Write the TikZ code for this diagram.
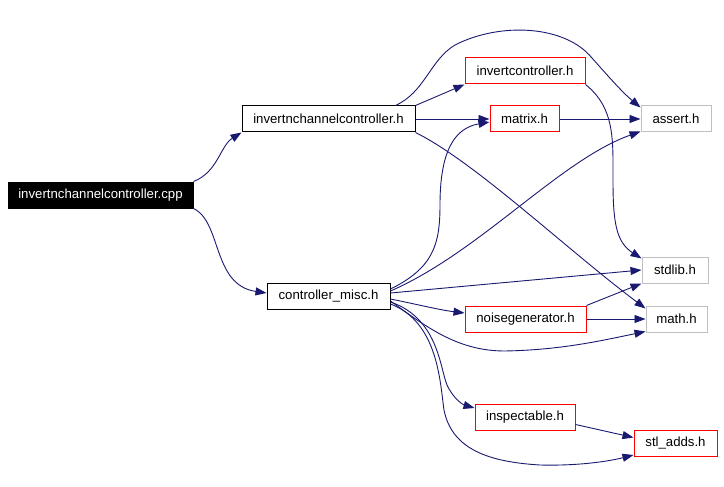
\documentclass[tikz,border=0pt]{standalone}
\usepackage{fontspec}
\setmainfont{Liberation Sans}
\usetikzlibrary{arrows.meta}
\definecolor{edgecol}{HTML}{191970}
\definecolor{graybox}{HTML}{BFBFBF}
\definecolor{redline}{HTML}{FF0000}
\tikzset{
  box/.style={draw, line width=1pt, inner sep=0pt, minimum height=26pt, font=\fontsize{13.2}{15}\selectfont, text=black},
  redbox/.style={box, draw=redline},
  graynode/.style={box, draw=graybox},
  blacknode/.style={box, draw=black},
  rootnode/.style={box, draw=black, fill=black, text=white},
  dep/.style={draw=edgecol, line width=0.9pt, -{Triangle[length=11pt,width=8pt]}, fill=none},
}
\begin{document}
\begin{tikzpicture}[x=1pt,y=-1pt]
\useasboundingbox (0,0) rectangle (724,487);
\node[rootnode, minimum width=185pt] (cpp) at (100.5,195) {invertnchannelcontroller.cpp};
\node[blacknode, minimum width=173pt] (invh) at (328.5,119) {invertnchannelcontroller.h};
\node[blacknode, minimum width=123pt] (misc) at (328.5,296) {controller\_misc.h};
\node[redbox, minimum width=120pt] (invctrl) at (525,71) {invertcontroller.h};
\node[redbox, minimum width=69pt] (matrix) at (524.5,119) {matrix.h};
\node[graynode, minimum width=70pt] (assert) at (676,119) {assert.h};
\node[graynode, minimum width=66pt] (stdlib) at (675,270) {stdlib.h};
\node[redbox, minimum width=121pt] (noise) at (525.5,319) {noisegenerator.h};
\node[graynode, minimum width=61pt] (math) at (676.5,319) {math.h};
\node[redbox, minimum width=100pt] (insp) at (525,417.5) {inspectable.h};
\node[redbox, minimum width=83pt] (stl) at (675.5,443.5) {stl\_adds.h};

% cpp edges
\draw[dep] (cpp.north east) .. controls (218,172) and (220,146) .. (invh.south west);
\draw[dep] (cpp.south east) .. controls (222,222) and (212,285) .. ([yshift=3pt]misc.west);

% invertnchannelcontroller.h edges
\draw[dep] (invh.north east) -- (invctrl.south west);
\draw[dep] (invh.east) -- (matrix.west);
\draw[dep] ([xshift=-20pt]invh.north east) .. controls (425,92) and (430,60) .. (455,45)
   .. controls (500,22) and (565,25) .. (592,58) .. controls (608,76) and (622,92) .. ([yshift=-2pt]assert.north west);
\draw[dep] (invh.south east) .. controls (475,162) and (565,248) .. ([yshift=-3pt]math.north west);

% invertcontroller -> stdlib
\draw[dep] (invctrl.south east) .. controls (615,108) and (613,140) .. (613,180)
   .. controls (613,222) and (616,242) .. ([yshift=-2pt]stdlib.north west);

% matrix -> assert
\draw[dep] (matrix.east) -- (assert.west);

% controller_misc edges
\draw[dep] ([yshift=7pt]misc.east) .. controls (433,268) and (440,245) .. (440,205)
   .. controls (440,150) and (455,128) .. ([yshift=-3pt]matrix.west);
\draw[dep] ([yshift=5pt]misc.east) .. controls (480,252) and (560,160) .. ([yshift=1pt]assert.south west);
\draw[dep] ([yshift=3pt]misc.east) -- (stdlib.west);
\draw[dep] ([yshift=-3pt]misc.east) .. controls (420,305) and (440,310) .. ([yshift=6pt]noise.west);
\draw[dep] ([yshift=-5pt]misc.east) .. controls (430,330) and (460,351) .. (505,351)
   .. controls (560,350) and (600,341) .. ([yshift=1pt]math.south west);
\draw[dep] ([yshift=-6pt]misc.east) .. controls (438,318) and (440,368) .. (447,385)
   .. controls (454,400) and (464,405) .. ([yshift=-4pt]insp.north west);
\draw[dep] ([yshift=-8pt]misc.east) .. controls (438,322) and (440,382) .. (444,410)
   .. controls (452,450) and (490,462) .. (540,465) .. controls (580,466) and (610,461) .. ([yshift=2pt]stl.south west);

% noisegenerator edges
\draw[dep] (noise.north east) -- (stdlib.south west);
\draw[dep] (noise.east) -- (math.west);

% inspectable -> stl_adds
\draw[dep] ([yshift=-7pt]insp.east) -- ([yshift=6pt]stl.west);
\end{tikzpicture}
\end{document}
